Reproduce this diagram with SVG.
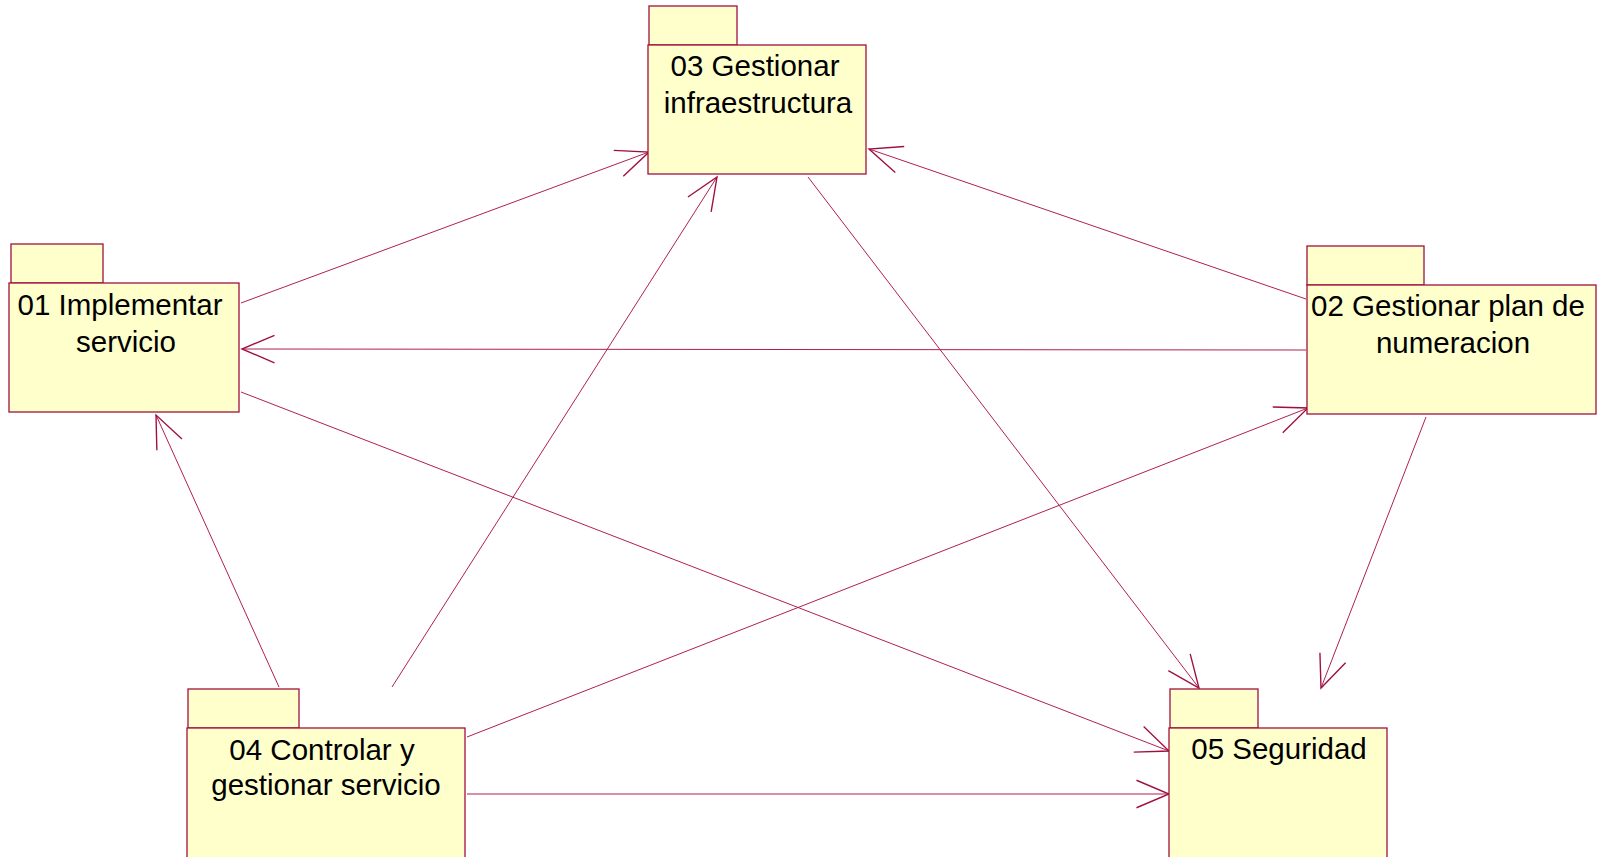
<svg xmlns="http://www.w3.org/2000/svg" width="1597" height="857" viewBox="0 0 1597 857">
<style>
.pk{fill:#FFFFCC;stroke:#A0103F;stroke-width:1.3}
.lbl{font-family:"Liberation Sans",Arial,sans-serif;font-size:29.5px;fill:#000;text-anchor:middle}
.cn{stroke:#B0204F;stroke-width:1;fill:none;marker-end:url(#ah)}
</style>
<defs>
<marker id="ah" markerUnits="userSpaceOnUse" markerWidth="40" markerHeight="40" viewBox="-30 -15 32 30" refX="0" refY="0" orient="auto">
<path d="M-26,-11 L0,0 L-26,11" fill="none" stroke="#A0103F" stroke-width="1.1"/>
</marker>
</defs>
<rect width="1597" height="857" fill="#fff"/>
<g id="connectors">
<line class="cn" x1="241" y1="303" x2="649" y2="152"/>
<line class="cn" x1="1306" y1="299" x2="869" y2="149"/>
<line class="cn" x1="1306" y1="350" x2="242" y2="349"/>
<line class="cn" x1="241" y1="392" x2="1169" y2="751"/>
<line class="cn" x1="808" y1="177" x2="1199" y2="688"/>
<line class="cn" x1="1426" y1="417" x2="1321" y2="688"/>
<line class="cn" x1="279" y1="687" x2="156" y2="415"/>
<line class="cn" x1="392" y1="687" x2="717" y2="177"/>
<line class="cn" x1="467" y1="737" x2="1308" y2="408"/>
<line class="cn" x1="467" y1="794" x2="1169" y2="794"/>
</g>
<g id="n03">
<rect class="pk" x="649" y="6" width="88" height="39"/>
<rect class="pk" x="648" y="45" width="218" height="129"/>
<text class="lbl" x="755" y="76">03 Gestionar</text>
<text class="lbl" x="758" y="113">infraestructura</text>
</g>
<g id="n01">
<rect class="pk" x="11" y="244" width="92" height="39"/>
<rect class="pk" x="9" y="283" width="230" height="129"/>
<text class="lbl" x="120" y="315">01 Implementar</text>
<text class="lbl" x="126" y="352">servicio</text>
</g>
<g id="n02">
<rect class="pk" x="1307" y="246" width="117" height="39"/>
<rect class="pk" x="1307" y="285" width="289" height="129"/>
<text class="lbl" x="1448" y="316">02 Gestionar plan de</text>
<text class="lbl" x="1453" y="353">numeracion</text>
</g>
<g id="n04">
<rect class="pk" x="188" y="689" width="111" height="39"/>
<rect class="pk" x="187" y="728" width="278" height="140"/>
<text class="lbl" x="322" y="760">04 Controlar y</text>
<text class="lbl" x="326" y="795">gestionar servicio</text>
</g>
<g id="n05">
<rect class="pk" x="1170" y="689" width="88" height="39"/>
<rect class="pk" x="1169" y="728" width="218" height="140"/>
<text class="lbl" x="1279" y="759">05 Seguridad</text>
</g>
</svg>
